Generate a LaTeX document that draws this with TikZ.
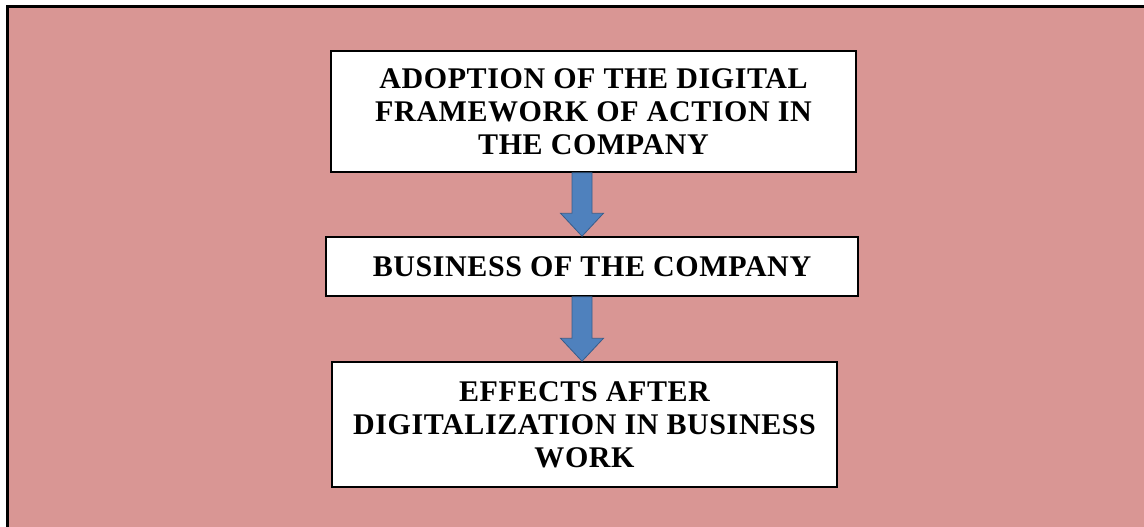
\documentclass[tikz,border=0pt]{standalone}
\usepackage{fontspec}
\setmainfont{Liberation Serif}
\usetikzlibrary{calc}
\definecolor{panelpink}{HTML}{D99694}
\definecolor{arrowblue}{HTML}{4F81BD}
\definecolor{arrowedge}{HTML}{385D8A}
\tikzset{
  stagebox/.style={draw=black, line width=1.5pt, fill=white, align=center,
    inner sep=0pt, font=\fontsize{30}{33}\selectfont\bfseries\addfontfeatures{LetterSpace=2}},
  blockarrow/.style={fill=arrowblue, draw=arrowedge, line width=0.8pt, line join=miter}
}
% block arrow between two nodes: shaft half-width 10pt, head half-width 21.5pt, head length 23pt
\newcommand{\blockdown}[3]{%
  \path let \p1=(#1.south), \p2=(#2.north) in
    [blockarrow] (#3-10pt,\y1) -- (#3+10pt,\y1) -- (#3+10pt,\y2+23pt)
    -- (#3+21.5pt,\y2+23pt) -- (#3,\y2) -- (#3-21.5pt,\y2+23pt)
    -- (#3-10pt,\y2+23pt) -- cycle;}
\begin{document}
\begin{tikzpicture}[x=1pt,y=1pt]
  \useasboundingbox (0,0) rectangle (1144,-527);
  \fill[white] (0,0) rectangle (1144,-527);
  % pink panel with frame running off the right and bottom edges
  \draw[fill=panelpink, line width=3pt] (7,-7) rectangle (1152,-535);

  \node[stagebox, minimum width=525pt, minimum height=121pt] (adopt) at (593.5,-111.5)
    {ADOPTION OF THE DIGITAL\\FRAMEWORK OF ACTION IN\\THE COMPANY};
  \node[stagebox, minimum width=532pt, minimum height=59pt] (business) at (592,-266.5)
    {BUSINESS OF THE COMPANY};
  \node[stagebox, minimum width=505pt, minimum height=125pt] (effects) at (584.5,-424.5)
    {EFFECTS AFTER\\DIGITALIZATION IN BUSINESS\\WORK};

  \blockdown{adopt}{business}{582pt}
  \blockdown{business}{effects}{582pt}
\end{tikzpicture}
\end{document}
